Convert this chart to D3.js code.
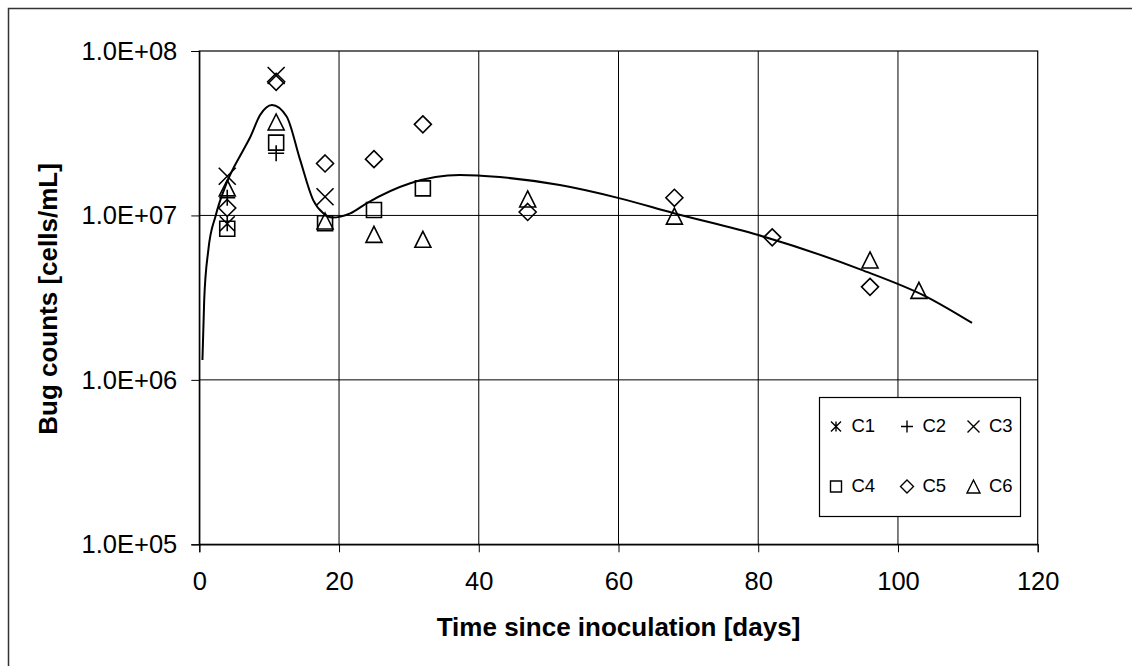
<!DOCTYPE html>
<html>
<head>
<meta charset="utf-8">
<script src="https://cdn.jsdelivr.net/npm/d3@7"></script>
<style>
    body { margin: 0; background: #fff; }
    svg { display: block; font-family: "Liberation Sans", Arial, sans-serif; }
</style>
</head>
<body>
<div id="chart"></div>
<script>
// Bug counts per column, [day, cells/mL]
const c1 = [[4, 8.9e6]];
const c2 = [[4, 1.28e7], [11, 2.39e7]];
const c3 = [[4, 1.73e7], [11, 7.1e7], [18, 1.3e7]];
const c4 = [[4, 8.3e6], [11, 2.77e7], [18, 8.96e6], [25, 1.08e7], [32, 1.46e7]];
const c5 = [[4, 1.11e7], [11, 6.5e7], [18, 2.07e7], [25, 2.2e7], [32, 3.58e7],
            [47, 1.05e7], [68, 1.28e7], [82, 7.36e6], [96, 3.68e6]];
const c6 = [[4, 1.47e7], [11, 3.7e7], [18, 9.25e6], [25, 7.67e6], [32, 7.16e6],
            [47, 1.26e7], [68, 9.9e6], [96, 5.36e6], [103, 3.5e6]];

// Fitted model curve
const fitCurve = [
    [0.45, 1.32e6], [0.7, 3.05e6], [1.3, 6.2e6], [2.35, 1.0e7], [3.9, 1.57e7],
    [6.3, 2.5e7], [7.3, 3.0e7], [8.7, 4.08e7], [10.4, 4.7e7], [12.5, 4.0e7],
    [14.4, 2.2e7], [16.3, 1.24e7], [17.75, 1.03e7], [19, 9.7e6], [21.6, 1.03e7],
    [24, 1.19e7], [30.2, 1.57e7], [37.3, 1.76e7], [43, 1.71e7], [51.6, 1.53e7],
    [60.2, 1.27e7], [67.8, 1.035e7], [80, 7.6e6], [94.6, 4.7e6], [104.1, 3.2e6],
    [110.6, 2.22e6]
];

const seriesNames = ['C1', 'C2', 'C3', 'C4', 'C5', 'C6'];
const seriesData = [c1, c2, c3, c4, c5, c6];
const seriesMarkers = ['asterisk', 'plus', 'cross', 'square', 'diamond', 'triangle'];

const xTicks = [0, 20, 40, 60, 80, 100, 120];
const yTicks = [1e5, 1e6, 1e7, 1e8];
const yTickLabels = ['1.0E+05', '1.0E+06', '1.0E+07', '1.0E+08'];

const W = 1132, H = 666;
const plot = { left: 199.3, right: 1037.7, top: 51, bottom: 544.3 };

const svg = d3.select('#chart').append('svg')
    .attr('width', W)
    .attr('height', H);

// Outer chart frame (runs off the bottom/right edge like the original)
svg.append('rect')
    .attr('x', 8.5).attr('y', 8.5)
    .attr('width', 1140).attr('height', 680)
    .attr('fill', 'none')
    .attr('stroke', '#333')
    .attr('stroke-width', 1.5);

const x = d3.scaleLinear().domain([0, 120]).range([plot.left, plot.right]);
const y = d3.scaleLog().domain([1e5, 1e8]).range([plot.bottom, plot.top]);

// Gridlines
const grid = svg.append('g').attr('stroke', '#000').attr('stroke-width', 1);
grid.selectAll('.vgrid')
    .data(xTicks.filter(d => d > 0 && d < 120))
    .join('line')
    .attr('x1', d => x(d)).attr('x2', d => x(d))
    .attr('y1', plot.top).attr('y2', plot.bottom);
grid.selectAll('.hgrid')
    .data(yTicks.filter(d => d > 1e5 && d < 1e8))
    .join('line')
    .attr('x1', plot.left).attr('x2', plot.right)
    .attr('y1', d => y(d)).attr('y2', d => y(d));

// Plot area border
svg.append('rect')
    .attr('x', plot.left).attr('y', plot.top)
    .attr('width', plot.right - plot.left)
    .attr('height', plot.bottom - plot.top)
    .attr('fill', 'none')
    .attr('stroke', '#000')
    .attr('stroke-width', 1.2);

// Axes
const xAxis = d3.axisBottom(x)
    .tickValues(xTicks)
    .tickSize(8)
    .tickPadding(20)
    .tickFormat(d3.format('d'));
const gx = svg.append('g')
    .attr('transform', `translate(0,${plot.bottom})`)
    .call(xAxis);

const yAxis = d3.axisLeft(y)
    .tickValues(yTicks)
    .tickSize(8)
    .tickPadding(14)
    .tickFormat((d, i) => yTickLabels[i]);
const gy = svg.append('g')
    .attr('transform', `translate(${plot.left},0)`)
    .call(yAxis);

[gx, gy].forEach(g => {
    g.select('.domain').attr('stroke', '#000').attr('stroke-width', 1.2);
    g.selectAll('.tick line').attr('stroke', '#000');
    g.selectAll('.tick text')
        .attr('fill', '#000')
        .style('font-size', '25.5px')
        .style('font-family', '"Liberation Sans", Arial, sans-serif');
});

// Axis titles
svg.append('text')
    .attr('x', (plot.left + plot.right) / 2)
    .attr('y', 636)
    .attr('text-anchor', 'middle')
    .attr('font-size', '26px')
    .attr('font-weight', 'bold')
    .text('Time since inoculation [days]');

svg.append('text')
    .attr('transform', 'translate(57,299) rotate(-90)')
    .attr('text-anchor', 'middle')
    .attr('font-size', '26px')
    .attr('font-weight', 'bold')
    .text('Bug counts [cells/mL]');

// Marker shapes, r = half size
function markerPath(type, r) {
    const p = d3.path();
    if (type === 'square') {
        p.rect(-r, -r, 2 * r, 2 * r);
    } else if (type === 'diamond') {
        p.moveTo(0, -r); p.lineTo(r, 0); p.lineTo(0, r); p.lineTo(-r, 0); p.closePath();
    } else if (type === 'triangle') {
        p.moveTo(0, -r); p.lineTo(r, r); p.lineTo(-r, r); p.closePath();
    } else if (type === 'plus') {
        p.moveTo(-r, 0); p.lineTo(r, 0); p.moveTo(0, -r); p.lineTo(0, r);
    } else if (type === 'cross') {
        p.moveTo(-r, -r); p.lineTo(r, r); p.moveTo(r, -r); p.lineTo(-r, r);
    } else if (type === 'asterisk') {
        p.moveTo(-r, -r); p.lineTo(r, r); p.moveTo(r, -r); p.lineTo(-r, r);
        p.moveTo(0, -r); p.lineTo(0, r);
    }
    return p.toString();
}

const markerSize = { square: 7.5, diamond: 8.5, triangle: 8, plus: 8, cross: 8.5, asterisk: 7.5 };

// Fitted line
const line = d3.line()
    .x(d => x(d[0]))
    .y(d => y(d[1]))
    .curve(d3.curveMonotoneX);

svg.append('path')
    .datum(fitCurve)
    .attr('d', line)
    .attr('fill', 'none')
    .attr('stroke', '#000')
    .attr('stroke-width', 2);

// Data points
seriesData.forEach((data, i) => {
    const type = seriesMarkers[i];
    svg.append('g')
        .attr('class', 'series-' + seriesNames[i])
        .selectAll('path')
        .data(data)
        .join('path')
        .attr('transform', d => `translate(${x(d[0])},${y(d[1])})`)
        .attr('d', markerPath(type, markerSize[type]))
        .attr('fill', 'none')
        .attr('stroke', '#000')
        .attr('stroke-width', 1.6);
});

// Legend
const legend = svg.append('g').attr('transform', 'translate(819.5,397.5)');
legend.append('rect')
    .attr('width', 201).attr('height', 119)
    .attr('fill', '#fff')
    .attr('stroke', '#000')
    .attr('stroke-width', 1.2);

const legendCols = [16.5, 87.5, 154];
const legendRows = [29, 89];
const legendSize = { square: 5.5, diamond: 6.5, triangle: 6.5, plus: 6, cross: 6, asterisk: 5 };

seriesNames.forEach((name, i) => {
    const cx = legendCols[i % 3];
    const cy = legendRows[Math.floor(i / 3)];
    const type = seriesMarkers[i];
    legend.append('path')
        .attr('transform', `translate(${cx},${cy})`)
        .attr('d', markerPath(type, legendSize[type]))
        .attr('fill', 'none')
        .attr('stroke', '#000')
        .attr('stroke-width', 1.4);
    legend.append('text')
        .attr('x', cx + 15.5)
        .attr('y', cy + 5.5)
        .attr('font-size', '18.5px')
        .text(name);
});
</script>
</body>
</html>
